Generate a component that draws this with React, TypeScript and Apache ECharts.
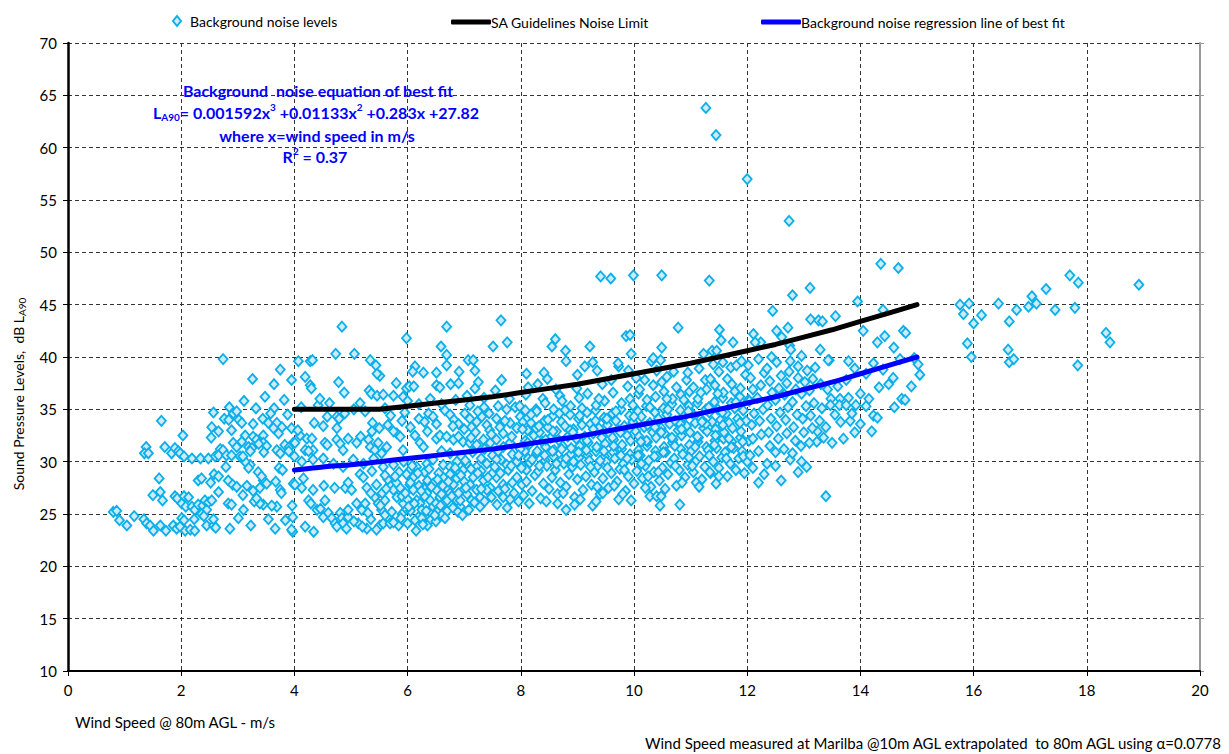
import React, { useEffect, useRef } from "react";
import * as echarts from "echarts";

// ---- Data ----
const lineX = [4, 4.5, 5, 5.5, 6, 6.5, 7, 7.5, 8, 8.5, 9, 9.5, 10, 10.5, 11, 11.5, 12, 12.5, 13, 13.5, 14, 14.5, 15];
const limitY = [35, 35, 35, 35, 35.3, 35.6, 35.9, 36.2, 36.6, 37.0, 37.4, 37.9, 38.4, 38.9, 39.4, 40.0, 40.6, 41.2, 41.9, 42.6, 43.4, 44.2, 45.0];
const fitY = [29.2, 29.5, 29.7, 30.0, 30.3, 30.6, 30.9, 31.2, 31.6, 32.0, 32.4, 32.9, 33.4, 33.9, 34.4, 35.0, 35.6, 36.2, 36.9, 37.6, 38.4, 39.2, 40.0];

const xTicks = [0, 2, 4, 6, 8, 10, 12, 14, 16, 18, 20];
const yTicks = [10, 15, 20, 25, 30, 35, 40, 45, 50, 55, 60, 65, 70];

// Background noise points, x < 4
const noiseA: number[][] = [
  [0.8,25.2],[0.86,25.3],[0.91,24.4],[1.04,23.9],[1.17,24.8],[1.34,24.5],[1.39,24.1],[1.45,23.9],[1.51,23.4],[1.63,23.9],
  [1.5,26.8],[1.63,27.1],[1.67,26.3],[1.61,28.4],[1.65,33.9],[1.38,31.4],[1.35,30.8],[1.42,30.8],[1.71,31.4],[1.83,30.8],
  [1.89,31.3],[1.95,31.0],[1.98,30.8],[2.03,32.5],[2.05,30.5],[2.19,30.3],[2.34,30.3],[1.89,26.7],[1.93,26.5],[2.05,26.7],
  [2.13,26.6],[2.01,26.0],[2.08,25.7],[2.19,25.7],[2.24,25.4],[2.3,25.9],[2.38,25.8],[2.42,26.3],[2.48,26.1],[2.54,26.3],
  [2.45,25.4],[2.36,25.0],[2.4,24.8],[2.3,28.2],[2.36,28.4],[2.52,28.0],[2.58,28.8],[2.66,28.6],[2.66,27.1],[2.79,29.5],
  [2.83,28.2],[2.91,27.8],[2.98,27.6],[2.83,26.0],[2.89,25.9],[3.1,25.4],[3.09,26.8],[1.86,23.9],[1.92,23.6],[1.98,23.8],
  [1.73,23.4],[2.01,24.6],[2.05,24.4],[2.07,23.4],[2.16,23.5],[2.24,23.4],[2.23,24.5],[2.45,23.9],[2.57,23.9],[2.61,23.7],
  [2.57,24.5],[2.86,23.6],[3.01,24.6],[3.23,23.9],[3.54,24.5],[3.66,23.6],[3.84,24.4],[3.97,23.3],[3.69,25.7],[3.6,25.8],
  [3.45,25.9],[3.39,26.0],[3.29,26.2],[3.33,26.5],[3.27,27.2],[3.39,27.5],[3.16,27.7],[3.45,28.2],[3.51,27.9],[3.67,28.1],
  [3.75,27.3],[3.77,27.0],[3.98,27.9],[3.36,29.0],[3.42,28.6],[3.73,29.4],[3.79,29.2],[3.22,29.7],[3.19,29.4],[3.13,30.0],
  [2.74,39.8],[3.26,37.9],[3.64,37.4],[3.75,38.8],[3.11,35.8],[3.32,35.1],[3.64,35.1],[2.85,35.2],[2.57,34.7],[2.76,34.1],
  [2.84,34.0],[2.92,34.6],[2.98,34.8],[3.02,34.0],[3.07,33.7],[2.89,33.0],[2.54,33.3],[2.66,32.9],[2.53,32.3],[3.27,33.6],
  [3.44,34.1],[3.54,33.7],[3.69,33.7],[3.78,33.3],[3.13,32.5],[3.27,32.4],[3.33,32.1],[3.45,32.5],[3.07,31.9],[2.92,31.8],
  [2.98,31.4],[3.19,31.4],[3.25,31.3],[3.45,31.8],[3.51,31.5],[3.46,30.9],[3.69,31.1],[3.75,30.8],[3.83,31.6],[3.91,31.4],
  [3.98,31.8],[3.9,31.0],[2.69,31.2],[2.74,31.1],[2.6,30.5],[2.66,30.6],[2.8,30.6],[2.89,30.6],[3.04,30.5],[3.09,30.5],
  [3.22,31.0],[3.37,31.7],[2.48,30.3],[3.63,33.2],[3.72,32.7],[3.95,33.2],[3.48,36.2],[3.82,35.9],[3.58,34.6],[3.88,34.5],
  [3.95,37.8]
];

// Background noise points, 4 <= x < 8
const noiseB: number[][] = [
  [4.84,42.9],[6.69,42.9],[7.65,43.5],[5.98,41.8],[7.76,41.4],[7.51,41.0],[6.59,41.0],[4.73,40.3],[5.06,40.3],[4.07,39.6],
  [4.28,39.6],[4.32,39.7],[5.34,39.7],[5.44,39.2],[5.51,38.2],[5.46,38.4],[6.13,39.1],[6.09,38.6],[6.28,38.5],[6.51,38.5],
  [6.69,39.2],[6.69,40.2],[6.91,38.6],[7.07,39.7],[7.16,39.7],[7.19,38.7],[7.66,37.8],[8.1,38.4],[4.19,38.1],[4.28,37.3],
  [4.3,37.0],[4.78,37.6],[4.88,36.6],[5.32,36.8],[5.36,36.5],[5.46,36.3],[5.57,36.4],[5.75,36.3],[5.92,36.2],[5.8,37.5],
  [5.98,37.0],[6.03,37.2],[6.11,37.2],[6.51,37.3],[6.57,37.1],[6.76,37.4],[6.9,37.5],[7.19,37.0],[7.25,37.6],
  [4.42,35.4],[4.58,34.3],[4.51,33.4],[4.75,34.3],[4.79,34.1],[4.89,34.6],[5.16,35.6],[5.38,33.7],[5.37,32.9],[4.75,33.2],
  [4.35,33.7],[4.1,32.5],[4.01,31.8],[4.06,33.0],[4.22,32.2],[4.31,32.2],[4.33,31.1],[4.19,31.1],[4.25,31.0],[4.54,31.8],
  [4.58,31.6],[4.75,32.1],[4.81,31.7],[4.86,31.1],[4.95,32.2],[5.1,31.8],[5.17,32.4],[5.31,32.1],[5.34,31.4],[5.42,31.1],
  [5.48,31.8],[5.54,30.8],[5.63,31.4],[5.81,32.7],[5.87,32.4],[6.13,32.5],[5.92,31.1],[6.22,31.8],[6.28,31.4],[6.37,34.6],
  [6.45,34.3],[6.51,33.6],[6.66,34.9],[6.75,34.5],[6.82,34.0],[6.9,33.6],[7.01,34.6],[7.1,34.1],[7.13,33.3],[7.22,33.8],
  [7.31,34.3],[7.4,33.5],[7.44,34.6],[7.57,34.1],[7.63,33.3],[7.69,32.7],[7.81,33.7],[7.93,33.2],[7.99,34.3],[8.04,33.8],
  [8.12,33.0],[6.51,32.2],[6.57,32.5],[6.69,32.4],[6.81,32.1],[6.9,32.4],[6.98,31.9],[7.1,31.8],[7.22,31.6],[7.34,32.1],
  [7.46,31.8],[7.57,32.1],[7.69,31.4],[7.81,31.8],[7.99,31.3],[8.07,31.0],
  [4.12,35.2],[4.45,36.0],[4.62,35.6],[5.05,35.0],[5.25,34.8],[5.6,35.1],[5.7,34.4],[6.0,35.8],[6.2,35.5],[6.4,36.0],
  [6.85,35.9],[7.05,36.3],[7.35,36.1],[7.55,36.8],[7.8,36.0],[7.9,35.2],[7.75,35.0],
  [5.65,33.5],[5.9,33.9],[6.05,33.3],[6.2,34.1],[5.75,32.9],[6.35,32.9],[6.6,31.0],[6.75,30.8],[6.95,30.5],[7.15,30.9],
  [7.3,30.3],[7.5,30.6],[7.65,30.2],[7.85,30.7],[7.95,29.9],[7.45,33.0],[7.2,32.8],[7.0,33.1],[6.8,33.4],[7.6,35.3],
  [7.35,35.2],[7.1,35.4],[6.6,35.5],[6.3,33.8],[5.95,34.7],[5.5,33.2],
  [4.0,30.5],[4.13,30.0],[4.33,30.2],[4.51,30.3],[4.69,29.8],[4.86,29.5],[5.04,30.2],[5.22,29.8],[5.4,30.3],[5.57,29.5],
  [5.75,29.7],[5.93,30.0],[6.04,29.2],[6.16,29.5],[6.34,29.8],[6.45,30.2],[6.63,29.7],[6.75,29.5],[6.87,30.0],[7.04,29.8],
  [7.22,29.5],[7.4,29.8],[7.57,30.2],[7.75,29.7],[7.93,30.0],[8.04,29.5],
  [4.01,27.8],[4.13,27.5],[4.16,28.4],[3.96,25.8],[3.97,24.7],[3.95,23.5],[4.19,23.8],[4.34,23.3],[4.25,26.3],[4.29,26.0],
  [4.4,25.4],[4.51,24.7],[4.46,25.5],[4.54,26.3],[4.33,27.3],[4.52,27.7],[4.71,27.5],[4.6,25.1],[4.66,24.6],[4.72,24.1],
  [4.75,23.8],[4.81,25.1],[4.84,24.6],[4.86,24.1],[4.92,23.6],[4.95,24.7],[4.9,27.5],[4.95,28.0],[5.01,27.3],[5.1,26.0],
  [5.13,24.1],[5.19,25.4],[5.25,26.0],[5.28,23.6],[5.16,28.8],[5.22,28.5],[5.28,27.5],[5.37,29.1],[5.42,26.6],[5.48,26.0],
  [5.54,25.4],[5.6,26.3],[5.51,23.9],[5.57,24.1],[5.66,24.6],[5.69,24.1],[5.69,27.8],[5.75,27.3],[5.81,26.6],[5.87,27.5],
  [5.92,26.0],[5.84,23.9],[5.98,28.8],[6.04,27.8],[6.1,27.3],[6.16,26.3],[6.22,26.0],[6.25,25.4],[6.19,24.7],[6.13,24.4],
  [6.28,27.5],[6.34,27.0],[6.4,26.3],[6.45,25.7],[6.51,27.3],[6.57,26.6],[6.63,26.0],[6.54,25.4],[6.31,24.7],[6.4,24.4],
  [6.25,24.6],[6.69,27.5],[6.75,27.0],[6.81,27.8],[6.87,26.3],[6.93,25.7],[6.98,27.3],[6.63,28.5],[6.75,28.8],[6.87,28.4],
  [6.98,29.2],[7.1,27.8],[7.16,28.5],[7.22,27.3],[7.28,26.6],[7.13,26.3],[6.93,26.3],[7.28,25.7],[7.34,28.2],[7.46,27.5],
  [7.57,28.5],[7.69,27.8],[7.78,29.2],[7.69,26.6],[7.81,26.4],[7.4,27.3],[7.93,28.5],[8.02,27.8],[8.1,29.2],
  [5.05,24.3],[5.2,23.8],[5.35,24.5],[5.45,23.5],[5.6,24.9],[5.75,24.2],[5.9,25.0],[6.0,24.1],[6.05,25.3],[6.35,23.9],
  [6.5,24.3],[6.6,24.9],[6.7,25.3],[6.15,23.4],[5.3,25.1],[4.95,25.4],
  [5.55,27.0],[5.65,28.3],[5.8,28.0],[5.9,26.7],[6.0,26.4],[6.1,28.5],[6.2,27.7],[6.3,26.7],[6.35,28.2],[6.45,27.9],
  [6.5,26.0],[6.6,26.9],[6.7,26.3],[6.8,25.6],[6.9,27.0],[7.0,28.1],[7.05,26.9],[6.55,28.9],[6.3,29.0],[6.05,28.0],
  [5.85,29.0],[5.6,28.7],[5.45,27.8],[5.35,27.0],[7.5,28.9],[7.6,27.2],[7.85,28.0],[7.3,29.1]
];

// Background noise points, 8 <= x < 12
const noiseC: number[][] = [
  [8.05,26.8],[8.1,28.1],[8.01,29.4],[8.13,30.3],[7.99,31.2],[8.08,32.0],[8.03,33.1],[8.12,34.2],[7.98,35.3],[8.09,36.4],
  [8.2,27.2],[8.25,28.7],[8.16,29.9],[8.28,30.8],[8.14,31.6],[8.23,32.5],[8.18,33.7],[8.27,35.0],[8.13,37.1],
  [8.35,26.5],[8.4,27.9],[8.31,29.1],[8.43,30.1],[8.29,31.0],[8.38,31.9],[8.33,32.8],[8.42,33.9],[8.28,34.8],[8.39,36.0],[8.41,38.5],
  [8.5,27.4],[8.55,28.5],[8.46,29.6],[8.58,30.5],[8.44,31.4],[8.53,32.3],[8.48,33.3],[8.57,34.4],[8.43,35.6],[8.47,37.9],[8.55,41.0],[8.61,41.7],
  [8.65,26.9],[8.7,28.0],[8.61,29.2],[8.73,30.2],[8.59,31.1],[8.68,32.0],[8.63,32.9],[8.72,33.8],[8.58,35.0],[8.69,36.3],
  [8.8,27.6],[8.85,28.8],[8.76,29.8],[8.88,30.7],[8.74,31.5],[8.83,32.4],[8.78,33.4],[8.87,34.5],[8.73,35.8],[8.8,39.6],[8.79,40.6],
  [8.95,26.6],[9.0,28.3],[8.91,29.5],[9.03,30.4],[8.89,31.3],[8.98,32.2],[8.93,33.1],[9.02,34.1],[8.88,35.3],[8.99,37.0],
  [9.1,27.3],[9.15,28.6],[9.06,29.7],[9.18,30.6],[9.04,31.5],[9.13,32.4],[9.08,33.5],[9.17,34.7],[9.03,36.1],[9.13,39.1],
  [9.25,27.8],[9.3,29.0],[9.21,30.1],[9.33,31.0],[9.19,31.8],[9.28,32.7],[9.23,33.6],[9.32,34.9],[9.18,36.5],[9.22,41.0],[9.27,39.5],
  [9.4,26.9],[9.45,28.4],[9.36,29.6],[9.48,30.5],[9.34,31.4],[9.43,32.3],[9.38,33.2],[9.47,34.2],[9.33,35.4],[9.44,37.4],[9.41,47.7],
  [9.55,27.5],[9.6,28.9],[9.51,30.0],[9.63,30.9],[9.49,31.7],[9.58,32.6],[9.53,33.5],[9.62,34.6],[9.48,35.8],[9.59,47.5],
  [9.7,28.1],[9.75,29.3],[9.66,30.3],[9.78,31.2],[9.64,32.1],[9.73,33.0],[9.68,33.9],[9.77,35.0],[9.63,36.6],[9.73,39.1],[9.72,39.4],
  [9.85,27.2],[9.9,28.6],[9.81,29.8],[9.93,30.7],[9.79,31.6],[9.88,32.5],[9.83,33.4],[9.92,34.4],[9.78,35.6],[9.89,37.2],[9.86,42.0],
  [10.0,27.9],[10.05,29.1],[9.96,30.2],[10.08,31.1],[9.94,32.0],[10.03,32.9],[9.98,33.8],[10.07,34.8],[9.93,36.0],[10.04,38.0],[9.93,42.1],[9.99,47.8],[9.95,40.3],
  [10.15,28.4],[10.2,29.6],[10.11,30.6],[10.23,31.5],[10.09,32.4],[10.18,33.3],[10.13,34.3],[10.22,35.3],[10.08,36.5],[10.19,37.8],
  [10.3,27.6],[10.35,29.0],[10.26,30.1],[10.38,31.0],[10.24,31.9],[10.33,32.8],[10.28,33.7],[10.37,34.7],[10.23,35.9],[10.34,37.3],[10.31,39.6],[10.34,39.9],
  [10.45,28.2],[10.5,29.4],[10.41,30.5],[10.53,31.4],[10.39,32.3],[10.48,33.2],[10.43,34.1],[10.52,35.1],[10.38,36.2],[10.49,37.6],[10.47,39.7],[10.49,40.9],[10.49,47.8],
  [10.6,28.8],[10.65,29.9],[10.56,30.9],[10.68,31.8],[10.54,32.7],[10.63,33.6],[10.58,34.5],[10.67,35.5],[10.53,36.7],[10.58,38.1],
  [10.75,27.7],[10.8,29.2],[10.71,30.3],[10.83,31.2],[10.69,32.1],[10.78,33.0],[10.73,33.9],[10.82,34.9],[10.68,36.0],[10.75,37.1],[10.78,42.8],
  [10.9,28.5],[10.95,29.7],[10.86,30.7],[10.98,31.6],[10.84,32.5],[10.93,33.4],[10.88,34.3],[10.97,35.3],[10.83,36.4],[10.93,37.8],
  [11.05,29.0],[11.1,30.1],[11.01,31.0],[11.13,31.9],[10.99,32.8],[11.08,33.7],[11.03,34.6],[11.12,35.6],[10.98,36.7],[11.05,37.1],
  [11.2,28.3],[11.25,29.5],[11.16,30.5],[11.28,31.4],[11.14,32.3],[11.23,33.2],[11.18,34.1],[11.27,35.0],[11.13,36.0],[11.26,37.8],[11.23,40.3],
  [11.35,28.9],[11.4,30.0],[11.31,31.1],[11.43,32.0],[11.29,32.9],[11.38,33.8],[11.33,34.7],[11.42,35.7],[11.28,36.9],[11.35,37.9],[11.38,40.6],[11.33,47.3],[11.27,63.8],
  [11.5,29.4],[11.55,30.4],[11.46,31.3],[11.58,32.2],[11.44,33.1],[11.53,34.0],[11.48,35.0],[11.57,36.1],[11.43,37.3],[11.5,38.6],[11.51,42.6],[11.54,41.6],[11.46,40.6],[11.45,61.2],
  [11.65,28.6],[11.7,29.8],[11.61,30.9],[11.73,31.9],[11.59,32.8],[11.68,33.7],[11.63,34.6],[11.72,35.6],[11.58,36.6],[11.57,39.5],[11.71,39.0],
  [11.8,29.2],[11.85,30.3],[11.76,31.3],[11.88,32.3],[11.74,33.2],[11.83,34.1],[11.78,35.1],[11.87,36.2],[11.73,37.4],[11.81,39.2],[11.75,41.4],
  [11.95,28.9],[12.0,30.0],[11.91,31.0],[12.03,32.0],[11.89,32.9],[11.98,33.9],[11.93,34.9],[12.02,35.9],[11.88,37.0],[11.97,38.3],[12.0,57.0],
  [8.65,26.0],[8.8,25.4],[8.95,25.9],[9.27,25.8],[9.33,26.2],[9.73,26.4],[10.28,26.7],[10.4,26.7],[10.48,26.7],[10.46,25.8],
  [10.81,25.9],[9.45,27.0],[9.8,26.9],[11.1,28.0],[11.5,28.6],[11.34,29.0],[10.2,27.5],
  [8.12,31.8],[8.27,33.2],[8.42,30.6],[8.57,32.9],[8.72,31.2],[8.87,33.0],[9.02,30.9],[9.17,32.0],[9.32,33.9],[9.47,31.0],
  [9.62,32.3],[9.77,30.6],[9.92,33.2],[10.07,30.6],[10.22,32.0],[10.37,33.3],[10.52,30.9],[10.67,32.3],[10.82,33.6],[10.97,30.4],
  [11.12,32.4],[11.27,33.6],[11.42,31.6],[11.57,33.5],[11.72,31.4],[11.87,33.7],
  [8.18,34.5],[8.48,34.0],[8.78,34.9],[9.08,35.1],[9.38,36.0],[9.68,34.8],[9.98,35.4],[10.28,35.2],[10.58,36.0],[10.88,35.9],
  [11.18,36.6],[11.48,36.5],[11.78,36.7],
  [8.33,29.6],[8.63,29.8],[8.93,30.0],[9.23,29.5],[9.53,29.4],[9.83,29.2],[10.13,29.8],[10.43,29.0],[10.73,29.6],[11.03,29.6],
  [11.33,30.6],[11.63,30.3],[11.93,30.5]
];

// Background noise points, 12 <= x <= 15.1
const noiseD: number[][] = [
  [12.74,53.0],[14.36,48.9],[14.67,48.5],[13.11,46.6],[12.8,45.9],[13.95,45.3],[14.4,44.5],[13.12,43.6],[13.26,43.5],[13.33,43.4],
  [13.56,43.9],[14.05,42.5],[14.76,42.5],[14.8,42.3],[14.43,42.0],[14.3,41.4],[14.59,40.9],[13.29,40.7],[13.79,39.6],[13.45,39.7],
  [14.23,39.4],[15.05,38.3],[14.58,38.0],[14.9,37.2],[14.33,37.1],[13.42,36.9],[13.48,36.0],[13.64,36.0],[13.79,36.1],[13.47,35.4],
  [13.63,35.4],[13.75,35.4],[13.92,35.4],[14.1,35.3],[14.73,36.0],[14.79,35.9],[14.23,34.4],[14.3,34.2],[13.65,33.8],[13.82,33.9],
  [13.9,32.8],[14.2,32.9],[13.24,32.9],[13.39,33.3],[13.23,31.9],[12.96,30.0],[12.76,30.2],[13.39,26.7],[12.45,44.4],[12.72,42.8],
  [12.52,42.5],[12.11,42.2],[12.61,41.9],[12.24,41.4],[12.14,41.4],[12.75,41.1],[12.77,40.7],[12.43,40.0],[12.96,40.1],[13.43,39.7],
  [12.76,39.6],[12.9,39.1],
  [12.05,30.6],[12.1,32.2],[12.08,33.5],[12.12,34.6],[12.04,35.8],[12.1,36.9],[12.06,38.0],[12.02,39.2],
  [12.2,31.0],[12.25,32.6],[12.22,33.9],[12.28,35.0],[12.18,36.1],[12.24,37.3],[12.3,38.5],[12.2,39.8],
  [12.35,29.8],[12.4,31.5],[12.38,32.8],[12.42,34.1],[12.36,35.4],[12.44,36.6],[12.4,37.7],[12.35,38.9],
  [12.5,30.9],[12.55,32.2],[12.52,33.4],[12.58,34.7],[12.5,35.9],[12.56,37.0],[12.6,38.2],[12.52,39.5],
  [12.65,31.2],[12.7,32.7],[12.68,34.0],[12.72,35.2],[12.66,36.4],[12.7,37.5],[12.74,38.6],
  [12.8,30.8],[12.85,32.0],[12.82,33.3],[12.88,34.5],[12.8,35.7],[12.86,36.9],[12.9,38.0],
  [12.95,31.5],[13.0,32.8],[12.98,34.1],[13.04,35.3],[12.96,36.5],[13.02,37.6],[13.06,38.7],
  [13.1,31.8],[13.15,33.2],[13.12,34.4],[13.18,35.6],[13.1,36.8],[13.16,37.9],[13.2,39.0],
  [13.28,33.9],[13.32,35.1],[13.3,37.4],[13.35,32.3],[13.5,31.8],[13.55,34.5],[13.6,37.2],[13.7,32.2],[13.75,37.8],[13.85,34.6],
  [14.0,36.5],[14.0,33.6],[14.15,36.0],[14.5,37.4],[14.6,35.2],[14.4,38.8],[14.1,38.4],[13.9,38.9],[14.7,39.8],[14.95,39.9],[15.02,39.3],
  [12.1,29.4],[12.3,28.8],[12.5,29.6],[12.6,28.2],[12.9,29.0],[13.05,29.5],[12.2,28.0]
];

// Background noise points, x > 15.5
const noiseE: number[][] = [
  [15.76,45.0],[15.92,45.1],[15.82,44.1],[16.0,43.2],[16.14,44.0],[15.89,41.3],[15.96,40.0],[16.44,45.1],[16.63,43.4],[16.76,44.5],
  [16.61,40.7],[16.63,39.5],[16.71,39.8],[16.97,44.8],[17.03,45.8],[17.11,45.1],[17.28,46.5],[17.44,44.5],[17.7,47.8],[17.85,47.1],
  [17.79,44.7],[17.84,39.2],[18.34,42.3],[18.41,41.4],[18.92,46.9]
];

// Extra points in the densest parts of the cloud
const noiseF: number[][] = [
  [5.52,25.8],[5.62,27.4],[5.72,25.2],[5.78,28.6],[5.88,24.6],[5.96,27.0],[6.02,25.7],[6.08,29.6],[6.12,26.0],[6.18,28.9],
  [6.24,27.2],[6.27,24.0],[6.33,25.3],[6.38,29.3],[6.42,27.6],[6.48,24.9],[6.53,28.3],[6.58,25.8],[6.62,27.7],[6.66,24.6],
  [6.72,28.1],[6.78,26.7],[6.84,29.4],[6.89,25.2],[6.94,28.7],[6.97,24.9],[7.03,27.5],[7.08,25.4],[7.12,29.3],[7.18,26.1],
  [7.24,28.9],[7.3,27.4],[7.36,26.2],[7.42,28.5],[7.48,26.6],[7.54,29.5],[7.58,25.9],[7.64,28.9],[7.72,27.4],[7.76,25.6],
  [7.83,29.6],[7.88,27.0],[7.96,26.2],
  [7.02,30.1],[7.12,32.3],[7.24,34.8],[7.36,31.2],[7.48,32.6],[7.6,31.0],[7.72,33.9],[7.84,32.4],[7.96,30.6],[8.08,34.9],
  [8.2,30.2],[8.32,33.4],[8.44,32.1],[8.56,31.0],[8.68,34.6],[8.8,30.3],[8.92,32.8],[9.04,34.4],[9.16,31.1],[9.28,33.1],
  [9.4,30.1],[9.52,34.1],[9.64,31.5],[9.76,32.8],[9.88,30.3],[10.0,34.3],[10.12,31.9],[10.24,33.5],[10.36,30.5],[10.48,32.8],
  [10.6,35.0],[10.72,31.5],[10.84,33.1],[10.96,34.8],[11.08,31.4],[11.2,33.8],[11.32,35.2],[11.44,32.5],[11.56,34.7],[11.68,32.2],
  [11.8,35.7],[11.92,31.9],
  [8.3,37.4],[8.62,36.9],[9.0,38.3],[9.35,38.7],[9.6,37.8],[9.9,38.7],[10.1,36.9],[10.4,38.7],[10.7,38.6],[10.95,38.5],
  [11.15,38.9],[11.4,39.3],[11.65,37.9],[11.9,39.6],
  [8.15,26.0],[8.45,26.2],[8.75,27.0],[9.05,26.4],[9.35,27.6],[9.65,27.7],[9.95,26.3],[10.25,28.6],[10.55,27.4],[10.85,28.0],
  [11.15,27.6],[11.45,27.9]
];

const FONT = "Lato, 'Liberation Sans', sans-serif";

export default function App() {
  const ref = useRef<HTMLDivElement>(null);
  useEffect(() => {
    if (!ref.current) return;
    const chart = echarts.init(ref.current, undefined, { renderer: "svg" });
    const points = [...noiseA, ...noiseB, ...noiseC, ...noiseD, ...noiseE, ...noiseF];
    const limitData = lineX.map((x, i) => [x, limitY[i]]);
    const fitData = lineX.map((x, i) => [x, fitY[i]]);
    const dashed = { type: [4, 3] as any, color: "#333", width: 1 };
    const blueBold = (size: number) => ({ fill: "#0000FF", fontSize: size, fontWeight: "bold", fontFamily: FONT, lineHeight: 20 });
    chart.setOption({
      animation: false,
      backgroundColor: "#fff",
      textStyle: { fontFamily: FONT },
      grid: { left: 68, right: 29, top: 43, bottom: 83, containLabel: false },
      legend: [
        {
          data: ["Background noise levels"], left: 167, top: 9, icon: "diamond",
          itemWidth: 8, itemHeight: 10,
          textStyle: { fontSize: 14, color: "#000", fontFamily: FONT, padding: [0, 0, 0, 4] },
        },
        {
          data: ["SA Guidelines Noise Limit"], left: 446, top: 10, icon: "roundRect",
          itemWidth: 40, itemHeight: 5,
          textStyle: { fontSize: 14, color: "#000", fontFamily: FONT, padding: [0, 0, 0, -5] },
        },
        {
          data: ["Background noise regression line of best fit"], left: 756, top: 10, icon: "roundRect",
          itemWidth: 40, itemHeight: 5,
          textStyle: { fontSize: 14, color: "#000", fontFamily: FONT, padding: [0, 0, 0, -5] },
        },
      ],
      xAxis: {
        type: "value", min: xTicks[0], max: xTicks[xTicks.length - 1], interval: 2,
        axisLine: { show: true, onZero: false, lineStyle: { color: "#000", width: 2 } },
        axisTick: { show: true, length: 5, lineStyle: { color: "#000", width: 1 } },
        axisLabel: { fontSize: 15, color: "#000", margin: 11, fontFamily: FONT },
        splitLine: { show: true, lineStyle: dashed },
      },
      yAxis: [
        {
          type: "value", min: yTicks[0], max: yTicks[yTicks.length - 1], interval: 5,
          axisLine: { show: true, onZero: false, lineStyle: { color: "#000", width: 2.5 } },
          axisTick: { show: true, length: 5, lineStyle: { color: "#000", width: 1 } },
          axisLabel: { fontSize: 15, color: "#000", margin: 11, fontFamily: FONT },
          splitLine: { show: true, lineStyle: dashed },
        },
        {
          type: "value", position: "right", min: yTicks[0], max: yTicks[yTicks.length - 1], interval: 5,
          axisLine: { show: true, onZero: false, lineStyle: { color: "#999", width: 2 } },
          axisTick: { show: true, length: 4, lineStyle: { color: "#999", width: 1 } },
          axisLabel: { show: false },
          splitLine: { show: false },
        },
      ],
      series: [
        {
          name: "Background noise levels", type: "scatter", data: points,
          symbol: "diamond", symbolSize: [9, 10],
          itemStyle: { color: "#CDEAF7", borderColor: "#0AAFEA", borderWidth: 1.8, opacity: 1 },
          z: 2,
        },
        {
          name: "SA Guidelines Noise Limit", type: "line", data: limitData,
          showSymbol: false, symbol: "none", color: "#000",
          lineStyle: { color: "#000", width: 5, cap: "round" }, itemStyle: { color: "#000" }, z: 4,
        },
        {
          name: "Background noise regression line of best fit", type: "line", data: fitData,
          showSymbol: false, symbol: "none", color: "#0000FF", smooth: 0.2,
          lineStyle: { color: "#0000FF", width: 5, cap: "round" }, itemStyle: { color: "#0000FF" }, z: 4,
        },
      ],
      graphic: [
        {
          type: "text", x: 318, y: 90, z: 10,
          style: { text: "Background  noise equation of best fit", align: "center", verticalAlign: "middle",
            fill: "#0000FF", font: `bold 16px ${FONT}` },
        },
        {
          type: "text", x: 316, y: 112, z: 10,
          style: {
            text: "{b|L}{s|A90}{b|= 0.001592x}{p|3}{b| +0.01133x}{p|2}{b| +0.283x +27.82}",
            align: "center", verticalAlign: "middle",
            rich: {
              b: { ...blueBold(16), verticalAlign: "middle" },
              s: { ...blueBold(10), verticalAlign: "bottom" },
              p: { ...blueBold(10), verticalAlign: "top" },
            },
          },
        },
        {
          type: "text", x: 317, y: 135, z: 10,
          style: { text: "where x=wind speed in m/s", align: "center", verticalAlign: "middle",
            fill: "#0000FF", font: `bold 16px ${FONT}` },
        },
        {
          type: "text", x: 315, y: 156, z: 10,
          style: {
            text: "{b|R}{p|2}{b| = 0.37}", align: "center", verticalAlign: "middle",
            rich: {
              b: { ...blueBold(16), verticalAlign: "middle" },
              p: { ...blueBold(10), verticalAlign: "top" },
            },
          },
        },
        {
          type: "text", x: 18, y: 394, rotation: Math.PI / 2, z: 10,
          style: {
            text: "{a|Sound Pressure Levels,  dB L}{s|A90}", align: "center", verticalAlign: "middle",
            rich: {
              a: { fill: "#000", fontSize: 14, fontFamily: FONT, lineHeight: 17, verticalAlign: "middle" },
              s: { fill: "#000", fontSize: 10, fontFamily: FONT, lineHeight: 17, verticalAlign: "bottom" },
            },
          },
        },
        {
          type: "text", x: 75, y: 722, z: 10,
          style: { text: "Wind Speed @ 80m AGL - m/s", align: "left", verticalAlign: "middle",
            fill: "#000", font: `15px ${FONT}` },
        },
        {
          type: "text", x: 1221, y: 743, z: 10,
          style: { text: "Wind Speed measured at Marilba @10m AGL extrapolated  to 80m AGL using \u03b1=0.0778",
            align: "right", verticalAlign: "middle", fill: "#000", font: `15px ${FONT}` },
        },
      ],
    });
    return () => chart.dispose();
  }, []);
  return (
    <div
      ref={ref}
      style={{ position: "absolute", left: 0, top: 0, width: 1229, height: 754, background: "#fff" }}
    />
  );
}
